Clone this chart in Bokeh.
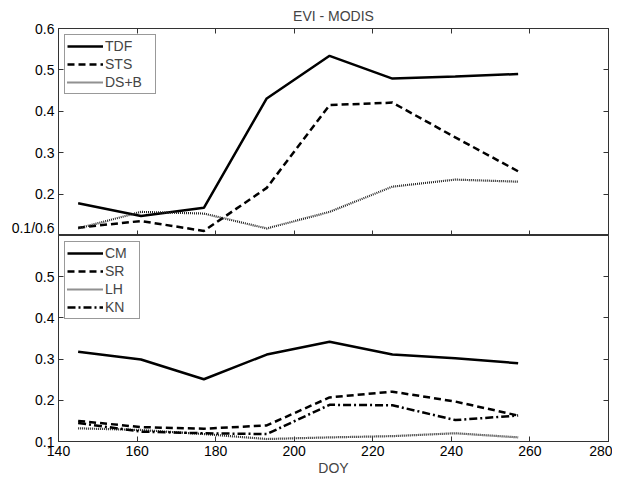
from bokeh.plotting import figure
from bokeh.layouts import column
from bokeh.models import LinearAxis, FixedTicker, Range1d, Legend, LegendItem, Title
from bokeh.embed import file_html
from bokeh.resources import INLINE

doy = [145, 161, 177, 193, 209, 225, 241, 257]
tdf = [0.178, 0.147, 0.167, 0.431, 0.534, 0.479, 0.484, 0.490]
sts = [0.119, 0.135, 0.111, 0.215, 0.415, 0.421, 0.337, 0.255]
dsb = [0.117, 0.157, 0.153, 0.117, 0.157, 0.218, 0.235, 0.230]

cm = [0.318, 0.299, 0.251, 0.311, 0.342, 0.311, 0.302, 0.290]
sr = [0.150, 0.135, 0.131, 0.139, 0.207, 0.221, 0.197, 0.163]
lh = [0.132, 0.128, 0.118, 0.106, 0.110, 0.113, 0.120, 0.110]
kn = [0.145, 0.124, 0.120, 0.118, 0.189, 0.188, 0.152, 0.163]

x_ticks = [140, 160, 180, 200, 220, 240, 260, 280]
y_ticks = [0.1, 0.2, 0.3, 0.4, 0.5, 0.6]

FONT = "Liberation Sans"
FS = "14px"


def style_axis(ax, ticks, labels=True):
    ax.major_tick_in = 5
    ax.major_tick_out = 0
    ax.minor_tick_in = 0
    ax.minor_tick_out = 0
    ax.axis_line_color = "#333333"
    ax.major_tick_line_color = "#333333"
    ax.major_label_text_font = FONT
    ax.major_label_text_color = "black"
    ax.major_label_text_font_size = FS
    if labels:
        ax.major_label_standoff = 4
    else:
        ax.major_label_overrides = {t: "" for t in ticks}
        ax.major_label_standoff = 0


def make_fig(height, top, bottom):
    p = figure(frame_width=550, frame_height=height, output_backend="svg",
               toolbar_location=None, x_range=Range1d(140, 280),
               y_range=Range1d(0.1, 0.6),
               min_border_left=58, min_border_right=4,
               min_border_top=top, min_border_bottom=bottom)
    p.grid.visible = False
    p.outline_line_color = "#333333"
    p.background_fill_color = "white"
    p.border_fill_color = "white"
    p.xaxis.ticker = FixedTicker(ticks=x_ticks)
    p.yaxis.ticker = FixedTicker(ticks=y_ticks)
    return p


# top panel
p1 = make_fig(207, 22, 0)
p1.title = Title(text="EVI - MODIS", align="center", text_font=FONT,
                 text_font_size=FS, text_font_style="normal", offset=0)
style_axis(p1.xaxis[0], x_ticks, labels=False)
style_axis(p1.yaxis[0], y_ticks)
p1.yaxis[0].major_label_overrides = {0.1: "0.1/0.6"}
ax_top = LinearAxis(ticker=FixedTicker(ticks=x_ticks))
style_axis(ax_top, x_ticks, labels=False)
p1.add_layout(ax_top, "above")
ax_r1 = LinearAxis(ticker=FixedTicker(ticks=y_ticks))
style_axis(ax_r1, y_ticks, labels=False)
p1.add_layout(ax_r1, "right")

r_tdf = p1.line(doy, tdf, line_color="black", line_width=2.5)
r_sts = p1.line(doy, sts, line_color="black", line_width=2.5, line_dash="7 4")
r_dsb = p1.line(doy, dsb, line_color="#222222", line_width=2.2, line_dash="1 1")

leg1 = Legend(items=[LegendItem(label="TDF", renderers=[r_tdf]),
                     LegendItem(label="STS", renderers=[r_sts]),
                     LegendItem(label="DS+B", renderers=[r_dsb])],
              location="top_left", label_width=48)

# bottom panel
p2 = make_fig(206, 0, 37)
style_axis(p2.xaxis[0], x_ticks)
p2.xaxis[0].major_label_standoff = 4
p2.xaxis[0].axis_label = "DOY"
p2.xaxis[0].axis_label_text_font = FONT
p2.xaxis[0].axis_label_text_font_size = FS
p2.xaxis[0].axis_label_text_font_style = "normal"
p2.xaxis[0].axis_label_standoff = 1
style_axis(p2.yaxis[0], y_ticks)
p2.yaxis[0].major_label_overrides = {0.6: ""}
ax_r2 = LinearAxis(ticker=FixedTicker(ticks=y_ticks))
style_axis(ax_r2, y_ticks, labels=False)
p2.add_layout(ax_r2, "right")

r_cm = p2.line(doy, cm, line_color="black", line_width=2.5)
r_sr = p2.line(doy, sr, line_color="black", line_width=2.5, line_dash="7 4")
r_lh = p2.line(doy, lh, line_color="#222222", line_width=2.2, line_dash="1 1")
r_kn = p2.line(doy, kn, line_color="black", line_width=2.5, line_dash="8 3 2 3")

leg2 = Legend(items=[LegendItem(label="CM", renderers=[r_cm]),
                     LegendItem(label="SR", renderers=[r_sr]),
                     LegendItem(label="LH", renderers=[r_lh]),
                     LegendItem(label="KN", renderers=[r_kn])],
              location="top_left", label_width=32)

for leg in (leg1, leg2):
    leg.label_text_font = FONT
    leg.label_text_font_size = FS
    leg.label_height = 18
    leg.glyph_height = 18
    leg.glyph_width = 36
    leg.label_standoff = 2
    leg.spacing = 0
    leg.padding = 2
    leg.margin = 6
    leg.border_line_color = "#333333"
    leg.border_line_width = 1
    leg.background_fill_alpha = 1

p1.add_layout(leg1, "center")
p2.add_layout(leg2, "center")

layout = column(p1, p2, spacing=0)

open("out.html", "w").write(file_html(layout, INLINE))
